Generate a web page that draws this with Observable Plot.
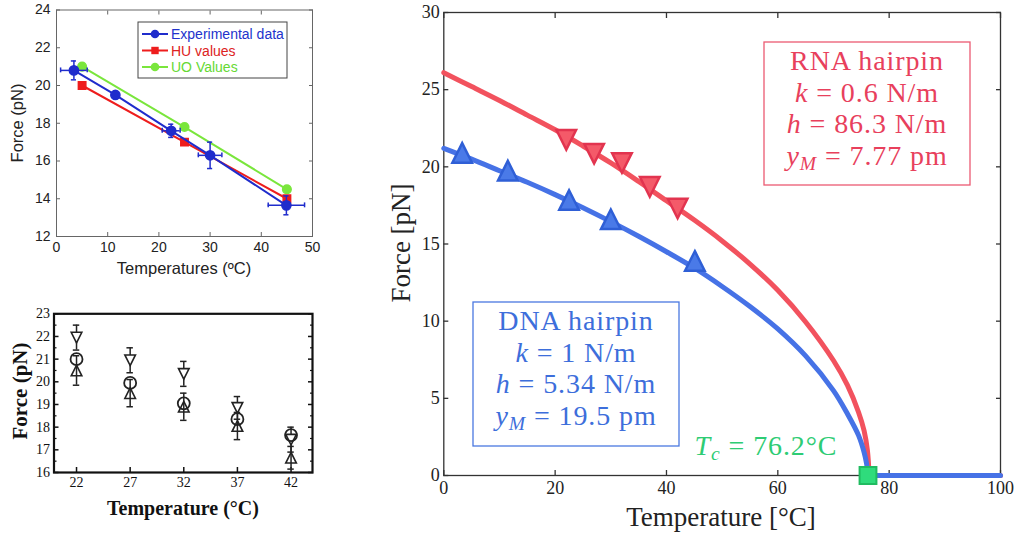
<!DOCTYPE html>
<html><head><meta charset="utf-8">
<script src="https://cdn.jsdelivr.net/npm/d3@7"></script>
<script src="https://cdn.jsdelivr.net/npm/@observablehq/plot@0.6"></script>
<style>
html,body{margin:0;padding:0;background:#fff;}
#wrap{position:relative;width:1020px;height:538px;overflow:hidden;background:#fff;}
#wrap svg{position:absolute;}
</style></head><body><div id="wrap"></div>
<script>
// ================= DATA =================
// Panel A (top-left): force vs temperature, three series
const aExpT = [3.4, 11.5, 22.4, 30.0, 44.9];
const aExpF = [20.8, 19.5, 17.6, 16.3, 13.65];
const aExpTErr = [2.6, 0, 1.75, 2.3, 3.55];
const aExpFErr = [0.5, 0, 0.35, 0.7, 0.5];
const aHuT = [5, 25, 45];
const aHuF = [20.0, 17.0, 14.0];
const aUoT = [5, 25, 45];
const aUoF = [21.0, 17.8, 14.5];
const aXTicks = [0, 10, 20, 30, 40, 50];
const aYTicks = [12, 14, 16, 18, 20, 22, 24];
const aLegend = ["Experimental data", "HU values", "UO Values"];

// Panel B (bottom-left): three marker sets
const bTemps = [22, 27, 32, 37, 42];
const bDown = [21.95, 20.95, 20.35, 18.85, 17.45];
const bDownErr = [0.55, 0.55, 0.55, 0.5, 0.55];
const bCircle = [21.0, 19.95, 19.05, 18.35, 17.65];
const bUp = [20.5, 19.5, 18.9, 18.05, 16.65];
const bUpErr = [0.65, 0.6, 0.6, 0.6, 0.5];
const bYTicks = [16, 17, 18, 19, 20, 21, 22, 23];
const bYMinor = [16.5, 17.5, 18.5, 19.5, 20.5, 21.5, 22.5];

// Main panel
const mDnaT = [3.3, 11.5, 22.5, 30.0, 45.1];
const mDnaF = [20.9, 19.75, 17.85, 16.6, 13.9];
const mRnaT = [22, 27, 32, 37, 42];
const mRnaF = [21.75, 20.85, 20.25, 18.7, 17.3];
const mDnaCurveT = [0, 5, 10, 15, 20, 25, 30, 35, 40, 45, 50, 55, 60, 65, 70, 72.5, 74.5, 75.5, 75.95, 76.2, 100];
const mDnaCurveF = [21.2, 20.5, 19.75, 19.0, 18.2, 17.35, 16.45, 15.5, 14.5, 13.45, 12.25, 10.95, 9.5, 7.75, 5.5, 4.0, 2.6, 1.5, 0.75, 0, 0];
const mRnaCurveT = [0, 5, 10, 15, 20, 25, 30, 35, 40, 45, 50, 55, 60, 65, 70, 72.5, 74.5, 75.5, 76.1, 76.4, 100];
const mRnaCurveF = [26.1, 25.2, 24.3, 23.35, 22.4, 21.35, 20.25, 19.05, 17.8, 16.55, 15.2, 13.7, 12.0, 9.95, 7.45, 5.85, 4.1, 2.9, 1.6, 0, 0];
const mTc = [76.2];
const mTcF = [0];
const mXTicks = [0, 20, 40, 60, 80, 100];
const mYTicks = [0, 5, 10, 15, 20, 25, 30];

// ================= HELPERS =================
const SERIF = "'Liberation Serif','Times New Roman',serif";
const SANS = "'Liberation Sans',Arial,sans-serif";
const triUp = {draw(c, size){const s=Math.sqrt(size/Math.PI);c.moveTo(0,-s);c.lineTo(s,s);c.lineTo(-s,s);c.closePath();}};
const triDown = {draw(c, size){const s=Math.sqrt(size/Math.PI);c.moveTo(0,s);c.lineTo(s,-s);c.lineTo(-s,-s);c.closePath();}};
const rows = (xs, ys, extra={}) => xs.map((x,i)=>{const o={x, y: ys[i]}; for (const k in extra) o[k]=extra[k][i]; return o;});
const fmt = d => String(d);

function richText(svg, x, y, segs, {size, color, family, anchor="middle", rotate=0, weight="normal", spacing=0}) {
  const t = d3.select(svg).append("text")
    .attr("text-anchor", anchor).attr("dominant-baseline", "central")
    .attr("font-family", family).attr("font-size", size).attr("font-weight", weight).attr("fill", color)
    .attr("letter-spacing", spacing)
    .attr("transform", `translate(${x},${y}) rotate(${rotate})`);
  let shift = 0;
  for (const [str, kind=""] of segs) {
    const ts = t.append("tspan").text(str);
    if (kind.includes("i")) ts.attr("font-style", "italic");
    const target = kind.includes("s") ? size*0.28 : 0;
    if (target !== shift) { ts.attr("dy", target - shift); shift = target; }
    if (kind.includes("s")) ts.attr("font-size", size*0.7);
  }
  return t;
}

const wrap = document.getElementById("wrap");

// ================= PANEL A =================
const aExp = rows(aExpT, aExpF, {dx: aExpTErr, dy: aExpFErr});
const aHu = rows(aHuT, aHuF);
const aUo = rows(aUoT, aUoF);
const aErr = aExp.filter(d => d.dx > 0);
const cBlue = "#1f2ccc", cRed = "#ee1d1d", cGreen = "#7ae63c";
const panelA = Plot.plot({
  width: 330, height: 290, marginLeft: 56, marginRight: 18, marginTop: 9.5, marginBottom: 54,
  x: {domain: [0, 50]}, y: {domain: [12, 24]},
  style: {fontFamily: SANS, fontSize: "14px", color: "#222", background: "transparent", overflow: "visible"},
  marks: [
    Plot.frame({stroke: "#666", strokeWidth: 1}),
    Plot.axisX({ticks: aXTicks, anchor: "bottom", tickSize: -4, tickPadding: 10, tickFormat: fmt, label: null, stroke: "#666"}),
    Plot.axisX({ticks: aXTicks, anchor: "top", tickSize: -4, tickFormat: () => "", label: null, stroke: "#666"}),
    Plot.axisY({ticks: aYTicks, anchor: "left", tickSize: -4, tickPadding: 10, tickFormat: fmt, label: null, stroke: "#666"}),
    Plot.axisY({ticks: aYTicks, anchor: "right", tickSize: -4, tickFormat: () => "", label: null, stroke: "#666"}),
    Plot.line(aUo, {x: "x", y: "y", stroke: cGreen, strokeWidth: 2}),
    Plot.line(aHu, {x: "x", y: "y", stroke: cRed, strokeWidth: 2}),
    Plot.dot(aUo, {x: "x", y: "y", r: 4.3, fill: cGreen, stroke: cGreen}),
    Plot.dot(aHu, {x: "x", y: "y", r: 4.2, symbol: "square", fill: cRed, stroke: cRed}),
    Plot.line(aExp, {x: "x", y: "y", stroke: cBlue, strokeWidth: 2}),
    Plot.ruleY(aErr, {y: "y", x1: d => d.x - d.dx, x2: d => d.x + d.dx, stroke: cBlue, strokeWidth: 1.5}),
    Plot.ruleX(aErr, {x: d => d.x - d.dx, y1: d => d.y - 0.13, y2: d => d.y + 0.13, stroke: cBlue, strokeWidth: 1.5}),
    Plot.ruleX(aErr, {x: d => d.x + d.dx, y1: d => d.y - 0.13, y2: d => d.y + 0.13, stroke: cBlue, strokeWidth: 1.5}),
    Plot.ruleX(aErr, {x: "x", y1: d => d.y - d.dy, y2: d => d.y + d.dy, stroke: cBlue, strokeWidth: 1.5}),
    Plot.ruleY(aErr, {y: d => d.y - d.dy, x1: d => d.x - 0.5, x2: d => d.x + 0.5, stroke: cBlue, strokeWidth: 1.5}),
    Plot.ruleY(aErr, {y: d => d.y + d.dy, x1: d => d.x - 0.5, x2: d => d.x + 0.5, stroke: cBlue, strokeWidth: 1.5}),
    Plot.dot(aExp, {x: "x", y: "y", r: 4.6, fill: cBlue, stroke: cBlue})
  ]
});
panelA.style.left = "0px"; panelA.style.top = "0px";
wrap.appendChild(panelA);
richText(panelA, 184, 268, [["Temperatures (ºC)"]], {size: 16.5, color: "#222", family: SANS});
richText(panelA, 17, 123, [["Force (pN)"]], {size: 16.5, color: "#222", family: SANS, rotate: -90});
{
  const g = d3.select(panelA).append("g");
  g.append("rect").attr("x", 138).attr("y", 22).attr("width", 149).attr("height", 56)
    .attr("fill", "white").attr("stroke", "#444").attr("stroke-width", 1);
  const cols = [cBlue, cRed, cGreen], txtCols = ["#2233cc", "#dd2222", "#66d933"];
  aLegend.forEach((name, i) => {
    const y = 34 + i * 16.5;
    g.append("line").attr("x1", 142).attr("x2", 168).attr("y1", y).attr("y2", y).attr("stroke", cols[i]).attr("stroke-width", 2);
    if (i === 1) g.append("rect").attr("x", 151.3).attr("y", y - 3.7).attr("width", 7.4).attr("height", 7.4).attr("fill", cols[i]);
    else g.append("circle").attr("cx", 155).attr("cy", y).attr("r", 4.3).attr("fill", cols[i]);
    g.append("text").attr("x", 171).attr("y", y).attr("dominant-baseline", "central").attr("text-anchor", "start")
      .attr("font-family", SANS).attr("font-size", 14).attr("fill", txtCols[i]).text(name);
  });
}

// ================= PANEL B =================
const bD = rows(bTemps, bDown, {e: bDownErr});
const bC = rows(bTemps, bCircle);
const bU = rows(bTemps, bUp, {e: bUpErr});
const capB = 0.3;
const panelB = Plot.plot({
  width: 330, height: 248, marginLeft: 53.5, marginRight: 18, marginTop: 23.3, marginBottom: 66,
  x: {domain: [19.9, 44]}, y: {domain: [16, 23]},
  style: {fontFamily: SERIF, fontSize: "14px", color: "#111", background: "transparent", overflow: "visible"},
  marks: [
    Plot.axisX({ticks: bTemps, anchor: "bottom", tickSize: -5, tickPadding: 10, tickFormat: fmt, label: null, strokeWidth: 1.5}),
    Plot.axisY({ticks: bYTicks, anchor: "left", tickSize: -5, tickPadding: 9, tickFormat: fmt, label: null, strokeWidth: 1.5}),
    Plot.axisY({ticks: bYMinor, anchor: "left", tickSize: -3, tickFormat: () => "", label: null, strokeWidth: 1.2}),
    Plot.axisY({ticks: bYTicks, anchor: "right", tickSize: -5, tickFormat: () => "", label: null, strokeWidth: 1.5}),
    Plot.axisY({ticks: bYMinor, anchor: "right", tickSize: -3, tickFormat: () => "", label: null, strokeWidth: 1.2}),
    Plot.frame({stroke: "#111", strokeWidth: 2.2}),
    Plot.ruleX(bD, {x: "x", y1: d => d.y - d.e, y2: d => d.y + d.e, stroke: "#222", strokeWidth: 1.5}),
    Plot.ruleY(bD, {y: d => d.y + d.e, x1: d => d.x - capB, x2: d => d.x + capB, stroke: "#222", strokeWidth: 1.5}),
    Plot.ruleY(bD, {y: d => d.y - d.e, x1: d => d.x - capB, x2: d => d.x + capB, stroke: "#222", strokeWidth: 1.5}),
    Plot.ruleX(bU, {x: "x", y1: d => d.y - d.e, y2: d => d.y + d.e, stroke: "#222", strokeWidth: 1.5}),
    Plot.ruleY(bU, {y: d => d.y + d.e, x1: d => d.x - capB, x2: d => d.x + capB, stroke: "#222", strokeWidth: 1.5}),
    Plot.ruleY(bU, {y: d => d.y - d.e, x1: d => d.x - capB, x2: d => d.x + capB, stroke: "#222", strokeWidth: 1.5}),
    Plot.dot(bD, {x: "x", y: "y", symbol: triDown, r: 5.3, fill: "white", stroke: "#222", strokeWidth: 1.6}),
    Plot.dot(bC, {x: "x", y: "y", r: 6, fill: "none", stroke: "#222", strokeWidth: 1.8}),
    Plot.dot(bU, {x: "x", y: "y", symbol: triUp, r: 5.3, fill: "none", stroke: "#222", strokeWidth: 1.6})
  ]
});
panelB.style.left = "0px"; panelB.style.top = "290px";
wrap.appendChild(panelB);
richText(panelB, 183, 218, [["Temperature (°C)"]], {size: 20, color: "#111", family: SERIF, weight: "bold"});
richText(panelB, 20, 101, [["Force (pN)"]], {size: 21, color: "#111", family: SERIF, weight: "bold", rotate: -90});

// ================= MAIN PANEL =================
const mDnaCurve = rows(mDnaCurveT, mDnaCurveF);
const mRnaCurve = rows(mRnaCurveT, mRnaCurveF);
const dnaTc = mDnaCurveT[mDnaCurveF.indexOf(0)];
const rnaTc = mRnaCurveT[mRnaCurveF.indexOf(0)];
const mDna = rows(mDnaT, mDnaF);
const mRna = rows(mRnaT, mRnaF);
const mTcPt = rows(mTc, mTcF);
const cDnaLine = "#4672e6", cRnaLine = "#f2525e";
const main = Plot.plot({
  width: 640, height: 538, marginLeft: 63.3, marginRight: 20, marginTop: 12, marginBottom: 63,
  x: {domain: [0, 100]}, y: {domain: [0, 30]},
  style: {fontFamily: SERIF, fontSize: "18px", color: "#222", background: "transparent", overflow: "visible"},
  marks: [
    Plot.frame({stroke: "#333", strokeWidth: 1.3}),
    Plot.axisX({ticks: mXTicks, anchor: "bottom", tickSize: -5, tickPadding: 11, tickFormat: fmt, label: null, stroke: "#333", strokeWidth: 1.3}),
    Plot.axisX({ticks: mXTicks, anchor: "top", tickSize: -5, tickFormat: () => "", label: null, stroke: "#333", strokeWidth: 1.3}),
    Plot.axisY({ticks: mYTicks, anchor: "left", tickSize: -5, tickPadding: 9, tickFormat: fmt, label: null, stroke: "#333", strokeWidth: 1.3}),
    Plot.axisY({ticks: mYTicks, anchor: "right", tickSize: -5, tickFormat: () => "", label: null, stroke: "#333", strokeWidth: 1.3}),
    Plot.line(mRnaCurve.filter(d => d.x <= rnaTc), {x: "x", y: "y", stroke: cRnaLine, strokeWidth: 5, curve: "catmull-rom", strokeLinejoin: "round"}),
    Plot.line(mRnaCurve.filter(d => d.x >= rnaTc), {x: "x", y: "y", stroke: cRnaLine, strokeWidth: 5}),
    Plot.line(mDnaCurve.filter(d => d.x <= dnaTc), {x: "x", y: "y", stroke: cDnaLine, strokeWidth: 5, curve: "catmull-rom", strokeLinejoin: "round"}),
    Plot.line(mDnaCurve.filter(d => d.x >= dnaTc), {x: "x", y: "y", stroke: cDnaLine, strokeWidth: 5}),
    Plot.dot(mRna, {x: "x", y: "y", symbol: triDown, r: 9.8, fill: "#f45a69", stroke: "#e2344f", strokeWidth: 2.5}),
    Plot.dot(mDna, {x: "x", y: "y", symbol: triUp, r: 9.8, fill: "#4a7ae8", stroke: "#2f5fd6", strokeWidth: 2.5}),
    Plot.dot(mTcPt, {x: "x", y: "y", symbol: "square", r: 9.5, fill: "#2fdc7c", stroke: "#20bb60", strokeWidth: 2})
  ]
});
main.style.left = "380px"; main.style.top = "0px";
wrap.appendChild(main);
{
  const s = d3.select(main);
  const rnaC = "#e8405c", dnaC = "#3d6edb", tcC = "#2ecc74";
  s.append("rect").attr("x", 384).attr("y", 42).attr("width", 206).attr("height", 143)
    .attr("fill", "white").attr("stroke", "#ec5a72").attr("stroke-width", 1.3);
  s.append("rect").attr("x", 93).attr("y", 302).attr("width", 206).attr("height", 144)
    .attr("fill", "white").attr("stroke", "#4a78e0").attr("stroke-width", 1.3);
  const o = {size: 28, family: SERIF, spacing: 0.9};
  richText(main, 487, 60, [["RNA hairpin"]], {...o, color: rnaC});
  richText(main, 487, 92, [["k", "i"], [" = 0.6 N/m"]], {...o, color: rnaC});
  richText(main, 487, 123, [["h", "i"], [" = 86.3 N/m"]], {...o, color: rnaC});
  richText(main, 487, 155, [["y", "i"], ["M", "is"], [" = 7.77 pm"]], {...o, color: rnaC});
  richText(main, 196, 320, [["DNA hairpin"]], {...o, color: dnaC});
  richText(main, 196, 352, [["k", "i"], [" = 1 N/m"]], {...o, color: dnaC});
  richText(main, 196, 383, [["h", "i"], [" = 5.34 N/m"]], {...o, color: dnaC});
  richText(main, 196, 415, [["y", "i"], ["M", "is"], [" = 19.5 pm"]], {...o, color: dnaC});
  richText(main, 386, 445, [["T", "i"], ["c", "is"], [" = 76.2°C"]], {...o, color: tcC});
  richText(main, 341, 517, [["Temperature [°C]"]], {size: 27, color: "#222", family: SERIF});
  richText(main, 21, 243, [["Force [pN]"]], {size: 27, color: "#222", family: SERIF, rotate: -90});
}
</script></body></html>
